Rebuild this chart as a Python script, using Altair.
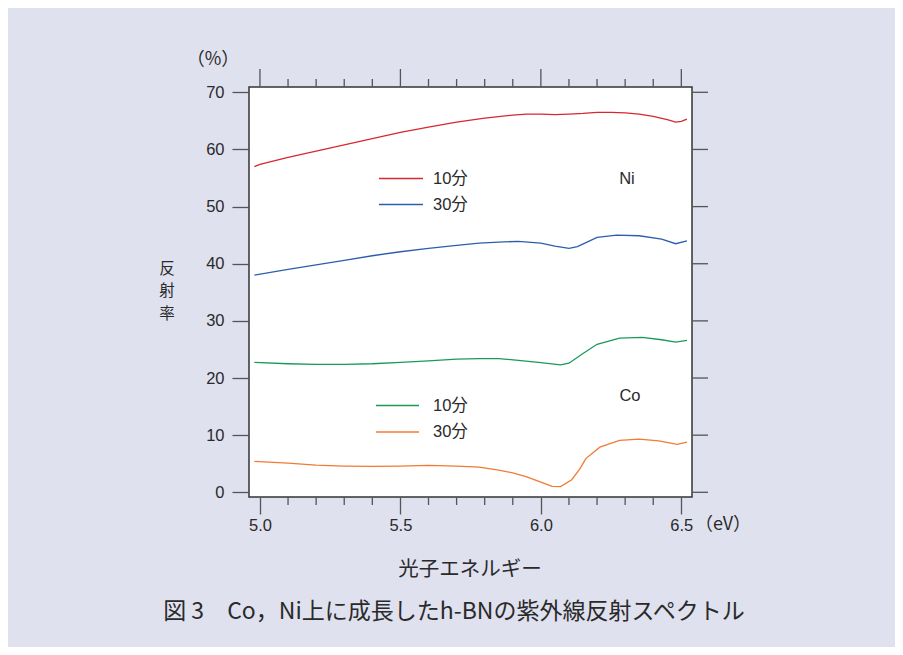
import altair as alt
import pandas as pd

# ---------------- data ----------------
ni10_e = [4.98, 5.0, 5.1, 5.2, 5.3, 5.4, 5.5, 5.6, 5.7, 5.8, 5.9, 5.95, 6.0, 6.05, 6.1, 6.15, 6.2, 6.25, 6.3, 6.35, 6.4, 6.45, 6.48, 6.5, 6.52]
ni10_r = [57.0, 57.4, 58.6, 59.7, 60.8, 61.9, 63.0, 63.9, 64.8, 65.5, 66.0, 66.2, 66.2, 66.1, 66.2, 66.3, 66.5, 66.5, 66.4, 66.2, 65.8, 65.2, 64.8, 64.9, 65.3]

ni30_e = [4.98, 5.1, 5.2, 5.3, 5.4, 5.5, 5.6, 5.7, 5.78, 5.85, 5.92, 6.0, 6.05, 6.1, 6.13, 6.17, 6.2, 6.27, 6.35, 6.43, 6.48, 6.52]
ni30_r = [38.0, 39.0, 39.8, 40.6, 41.4, 42.1, 42.7, 43.2, 43.6, 43.8, 43.9, 43.6, 43.1, 42.7, 43.0, 43.9, 44.6, 45.0, 44.9, 44.3, 43.5, 44.0]

co10_e = [4.98, 5.1, 5.2, 5.3, 5.4, 5.5, 5.6, 5.7, 5.78, 5.85, 5.92, 6.0, 6.07, 6.1, 6.15, 6.2, 6.28, 6.36, 6.43, 6.48, 6.52]
co10_r = [22.75, 22.5, 22.4, 22.4, 22.5, 22.75, 23.0, 23.3, 23.4, 23.4, 23.1, 22.7, 22.3, 22.6, 24.3, 25.9, 27.0, 27.1, 26.7, 26.3, 26.6]

co30_e = [4.98, 5.1, 5.2, 5.3, 5.4, 5.5, 5.6, 5.7, 5.78, 5.85, 5.9, 5.95, 6.0, 6.04, 6.07, 6.11, 6.14, 6.16, 6.21, 6.28, 6.35, 6.42, 6.485, 6.52]
co30_r = [5.4, 5.1, 4.75, 4.6, 4.55, 4.6, 4.7, 4.6, 4.4, 3.9, 3.4, 2.7, 1.8, 1.05, 1.0, 2.2, 4.2, 5.9, 7.9, 9.1, 9.3, 9.0, 8.4, 8.8]

series_names = ["Ni 10分", "Ni 30分", "Co 10分", "Co 30分"]
series_colors = ["#d7282f", "#2d5ead", "#1a9a5a", "#f27a32"]

major_x = [5.0, 5.5, 6.0, 6.5]
minor_x = [5.1, 5.2, 5.3, 5.4, 5.6, 5.7, 5.8, 5.9, 6.1, 6.2, 6.3, 6.4]
major_y = [0, 10, 20, 30, 40, 50, 60, 70]

legend_labels = ["10分", "30分"]
y_title_chars = ["反", "射", "率"]

# ---------------- build table ----------------
rows = []
for name, es, rs in zip(series_names, [ni10_e, ni30_e, co10_e, co30_e], [ni10_r, ni30_r, co10_r, co30_r]):
    for e, r in zip(es, rs):
        rows.append({"series": name, "e": e, "r": r})
df = pd.DataFrame(rows)

W, H = 443, 410
XDOM = [4.961, 6.538]
YDOM = [-0.82, 70.93]
LATIN = "Liberation Sans, Noto Sans CJK JP"
CJK = "Noto Sans CJK JP"
TXT = "#2a2a2a"
TICK = "#555555"

xs = alt.Scale(domain=XDOM, nice=False, zero=False)
ys = alt.Scale(domain=YDOM, nice=False, zero=False)

lines = alt.Chart(df).mark_line(strokeWidth=1.3, clip=True).encode(
    x=alt.X("e:Q", scale=xs, title=None,
            axis=alt.Axis(values=major_x, format=".1f", orient="bottom", tickSize=17,
                          tickWidth=1.3, tickColor=TICK, domain=False, grid=False,
                          labelFontSize=16.5, labelFont=LATIN, labelColor=TXT, labelPadding=3)),
    y=alt.Y("r:Q", scale=ys, title=None,
            axis=alt.Axis(values=major_y, format="d", orient="left", tickSize=17,
                          tickWidth=1.3, tickColor=TICK, domain=False, grid=False,
                          labelFontSize=16.5, labelFont=LATIN, labelColor=TXT, labelPadding=8)),
    color=alt.Color("series:N", scale=alt.Scale(domain=series_names, range=series_colors), legend=None),
)

# extra tick marks (top / right / minor)
top_major = alt.Chart(pd.DataFrame({"v": major_x})).mark_rule(color=TICK, strokeWidth=1.3).encode(
    x=alt.X("v:Q", scale=xs), y=alt.value(0), y2=alt.value(-18))
top_minor = alt.Chart(pd.DataFrame({"v": minor_x})).mark_rule(color=TICK, strokeWidth=1.3).encode(
    x=alt.X("v:Q", scale=xs), y=alt.value(0), y2=alt.value(-8))
bot_minor = alt.Chart(pd.DataFrame({"v": minor_x})).mark_rule(color=TICK, strokeWidth=1.3).encode(
    x=alt.X("v:Q", scale=xs), y=alt.value(H), y2=alt.value(H + 8))
right_major = alt.Chart(pd.DataFrame({"v": major_y})).mark_rule(color=TICK, strokeWidth=1.3).encode(
    y=alt.Y("v:Q", scale=ys), x=alt.value(W), x2=alt.value(W + 16))

one = pd.DataFrame({"a": [0]})


def key(x1, x2, y, color):
    return alt.Chart(one).mark_rule(color=color, strokeWidth=1.3).encode(
        x=alt.value(x1), x2=alt.value(x2), y=alt.value(y))


def label(text, x, y, size=16.5, align="left", font=LATIN, baseline="middle"):
    return alt.Chart(one).mark_text(text=text, align=align, baseline=baseline, fontSize=size,
                                     font=font, color=TXT).encode(x=alt.value(x), y=alt.value(y))


annots = [
    key(130, 174, 91.5, series_colors[0]),
    key(130, 174, 117.5, series_colors[1]),
    label(legend_labels[0], 184, 91.5),
    label(legend_labels[1], 184, 117.5),
    label("Ni", 378, 91.5, align="center"),
    key(127, 170, 318.5, series_colors[2]),
    key(127, 170, 345, series_colors[3]),
    label(legend_labels[0], 184, 318.5),
    label(legend_labels[1], 184, 345),
    label("Co", 381, 308.5, align="center"),
    label("（%）", -36, -27, size=18, align="center", font=CJK),
    label("（eV）", 446, 437.5, size=18, align="left", font=CJK),
    label("光子エネルギー", 221, 483, size=20.5, align="center", font=CJK),
    label("図 3　Co，Ni上に成長したh-BNの紫外線反射スペクトル", 205, 525, size=23, align="center", font=CJK),
]
for i, ch in enumerate(y_title_chars):
    annots.append(label(ch, -82, 181.5 + 22.5 * i, size=15.5, align="center", font=CJK))

chart = alt.layer(lines, top_major, top_minor, bot_minor, right_major, *annots).properties(
    width=W, height=H,
    autosize=alt.AutoSizeParams(type="none"),
    padding={"left": 241, "top": 79, "right": 887 - 241 - W, "bottom": 639 - 79 - H},
    background="#dfe1ef",
).configure_view(stroke="#333333", strokeWidth=1.5, fill="white")

chart.save("out.html", embed_options={"renderer": "svg", "actions": False})
